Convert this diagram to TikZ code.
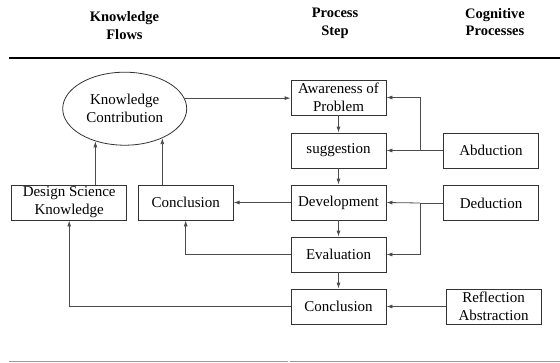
\documentclass[tikz,border=0pt]{standalone}
\usepackage{fontspec}
\setmainfont{Liberation Serif}
\usetikzlibrary{shapes.geometric,arrows.meta}

\begin{document}
\begin{tikzpicture}[x=1pt,y=-1pt,>={Latex[length=6pt,width=4pt]}]
\useasboundingbox (0,0) rectangle (560,362);

\begin{scope}[every node/.style={align=center,font=\fontsize{14.5}{17.5}\selectfont\bfseries}]
	\node (H1) at (124.5,25.5) {Knowledge\\Flows};
	\node (H2) at (335,23.5) {Process\\Step};
	\node (H3) at (495,22) {Cognitive\\Processes};
\end{scope}
\draw [line width=2pt] (9,57.5) -- (560,57.5);
\draw [black!40,line width=1pt] (9,361) -- (288,361) (290,361) -- (560,361);

\begin{scope}[every node/.style={rectangle,draw=black!80,line width=0.8pt,minimum width=95pt,minimum height=35pt,inner sep=2pt,align=center,font=\fontsize{15}{18}\selectfont}]
	\node (AW) at (338.5,97.5) {Awareness of\\Problem};
	\node (SG) at (338.5,150.5) {suggestion};
	\node (DV) at (338.5,202.5) {Development};
	\node (EV) at (338.5,254.5) {Evaluation};
	\node (CO) at (338.5,306.5) {Conclusion};
	\node (AB) at (491,150.5) {Abduction};
	\node (DE) at (491,203) {Deduction};
	\node (RA) at (493.5,306.5) {Reflection\\Abstraction};
	\node (DS) at (69.2,202.5) [minimum width=115pt] {Design Science\\Knowledge};
	\node (CL) at (185.7,202.5) {Conclusion};
	\node (KC) at (124.7,108.7) [ellipse,minimum width=124pt,minimum height=73pt] {Knowledge\\Contribution};
\end{scope}
\coordinate (J1) at (420,150.5);
\coordinate (J2) at (420,203);

\begin{scope}[every edge/.style={draw=black!70,line width=0.8pt},
	hv/.style={to path={-| (\tikztotarget)}},
	vh/.style={to path={|- (\tikztotarget)}}]
	\path [->] (AW) edge (SG) (SG) edge (DV) (DV) edge (EV) (EV) edge (CO);
	\path (AB.west) edge (J1) (DE.west) edge (J2);
	\path [->] (J1) edge (SG.east) (J1) edge[vh] (AW.east);
	\path [->] (J2) edge (DV.east) (J2) edge[vh] (EV.east);
	\path [->] (RA) edge (CO) (DV) edge (CL);
	\path [->] (EV.west) edge[hv] (CL.south) (CO.west) edge[hv] (DS.south);
	\path [->] (KC.10) edge (KC.10 -| AW.west);
	\path [->] (KC.228 |- DS.north) edge (KC.228);
	\path [->] (KC.322 |- CL.north) edge (KC.322);
\end{scope}
\end{tikzpicture}
\end{document}
